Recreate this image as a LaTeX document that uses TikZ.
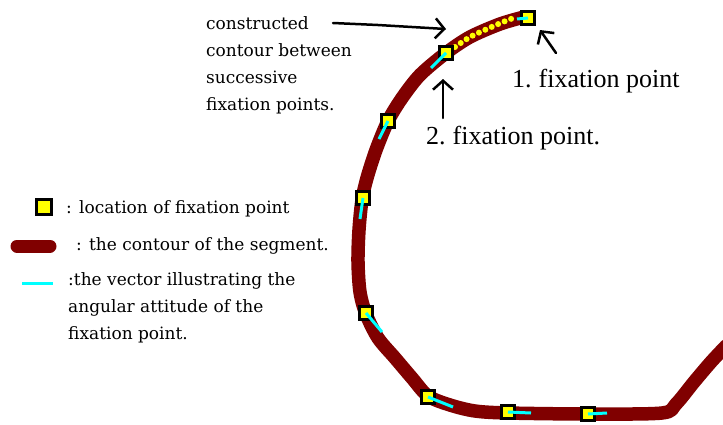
\documentclass[tikz,border=0pt]{standalone}
\usepackage{fontspec}
\setmainfont{Liberation Serif}
\newfontfamily\pixfont{DejaVu Serif}
\usetikzlibrary{arrows.meta,positioning}
\definecolor{SegRed} {RGB}{128,  0,  0}
\definecolor{VecCyan}{RGB}{0,  255,255}
\definecolor{FixYel} {RGB}{255,255,  0}

\begin{document}
\begin{tikzpicture}[x=1pt,y=-1pt,
    fixpt/.style={draw=black,line width=3pt,fill=FixYel,minimum size=13pt,inner sep=0pt},
    contour/.style={SegRed,line width=13.5pt,line cap=round,line join=round},
    vec/.style={VecCyan,line width=3pt},
    hand/.style={black,line width=2.5pt,line cap=round,
                 -{Straight Barb[length=9pt,width=20pt]}},
    small/.style={font=\pixfont\fontsize{17}{27}\selectfont,inner sep=0pt,anchor=base west,align=left},
    big/.style={font=\fontsize{26}{30}\selectfont,inner sep=0pt,anchor=base west}]
  \useasboundingbox (0,0) rectangle (723,424);
  % the segment contour
  \draw[contour] plot[smooth,tension=0.5] coordinates {
      (524,17) (500,24) (470,37) (446,53) (420,75) (402,98) (388,121)
      (376,150) (367,178) (362,200) (359,230) (358,262) (360,292)
      (366,314) (378,338) (395,358) (412,378) (428,396) (450,405)
      (475,411) (508,413) (588,414) (662,413) (676,404) (694,382)
      (711,362) (726,346)};
  % constructed part between the two fixations
  \draw[FixYel,line width=6pt,line cap=round,dash pattern=on 0pt off 7pt]
    plot[smooth,tension=0.5] coordinates {(455,47) (470,37) (487,29) (503,22) (516,17)};
  % fixation points
  \node[fixpt] (fp1) at (528,18) {};
  \node[fixpt] (fp2) at (446,53) {};
  \node[fixpt] (fp3) at (388,121) {};
  \node[fixpt] (fp4) at (363,198) {};
  \node[fixpt] (fp5) at (366,313) {};
  \node[fixpt] (fp6) at (428,397) {};
  \node[fixpt] (fp7) at (508,412) {};
  \node[fixpt] (fp8) at (588,414) {};
  % angular attitude vectors
  \foreach \p/\x/\y in {1/517/19,2/431/68,3/379/139,4/360/219,
                        5/382/332,6/453/407,7/531/413,8/607/413}{
    \coordinate (v\p) at (\x,\y);
    \draw[vec] (fp\p.center) -- (v\p);}
  % labels (multi-line nodes sit on their last line)
  \node[small] (note) at (206,110) {constructed\\contour between\\successive\\fixation points.};
  \node[big] (lab1) at (512,87) {1.\hspace{7pt}fixation point};
  \node[big] (lab2) at (426,144) {2.\hspace{7pt}fixation point.};
  \coordinate (n1) at (333,23);
  \coordinate (n2) at (446,29);
  \draw[hand] (n1) -- (378,25) -- (n2);
  \coordinate (l1) at (556,53);
  \coordinate (l1h) at (540,30);
  \draw[hand] (l1) -- (l1h);
  \coordinate (l2) at (443,118);
  \coordinate (l2h) at (443,79);
  \draw[hand] (l2) -- (l2h);
  % legend
  \node[fixpt,minimum size=15pt] (keyfp) at (44,207) {};
  \node[small] (keytxt1) at (66,213) {: location of fixation point};
  \coordinate (bar1) at (17,246);
  \coordinate (bar2) at (50,246);
  \draw[SegRed,line width=13pt,line cap=round] (bar1) -- (bar2);
  \node[small] (keytxt2) at (76,250) {: the contour of the segment.};
  \coordinate (cy1) at (22,283);
  \coordinate (cy2) at (53,283);
  \draw[vec] (cy1) -- (cy2);
  \node[small] (keytxt3) at (68,339) {:the vector illustrating the\\angular attitude of the\\fixation point.};
\end{tikzpicture}
\end{document}
